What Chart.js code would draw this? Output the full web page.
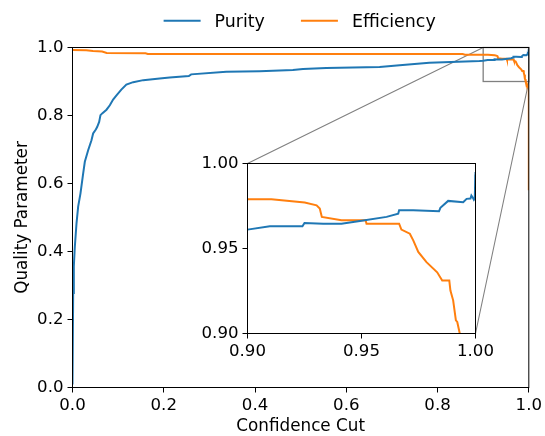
<!DOCTYPE html>
<html><head><meta charset="utf-8">
<script src="https://cdn.jsdelivr.net/npm/chart.js@4"></script>
<style>
html,body{margin:0;padding:0;background:#fff;}
#wrap{position:relative;width:545px;height:436px;overflow:hidden;}
#wrap canvas{position:absolute;left:0;top:0;}
</style></head><body>
<div id="wrap"><canvas id="main" width="545" height="436"></canvas><canvas id="inset" width="545" height="436"></canvas></div>
<script>
// ---- data ----
const seriesNames = ['Purity', 'Efficiency'];
const axisTitles = ['Confidence Cut', 'Quality Parameter'];

const purityCut = [0, 0.0015, 0.0029, 0.0051, 0.0088, 0.0124, 0.0175, 0.0234, 0.027, 0.0343, 0.0416, 0.0452, 0.0511, 0.054, 0.0584, 0.0613, 0.0657, 0.0745, 0.0818, 0.089, 0.0964, 0.107, 0.118, 0.133, 0.155, 0.191, 0.213, 0.255, 0.26, 0.337, 0.41, 0.483, 0.505, 0.556, 0.673, 0.717, 0.782, 0.892,
  0.9, 0.9098, 0.9241, 0.925, 0.9332, 0.9412, 0.9493, 0.961, 0.9661, 0.9665, 0.9727, 0.984, 0.9846, 0.988, 0.9946, 0.9961, 0.9978, 0.9982, 0.9987, 0.9993, 0.9997, 0.9999, 1.0];
const purityValues = [0.009, 0.278, 0.356, 0.414, 0.483, 0.532, 0.571, 0.630, 0.664, 0.698, 0.727, 0.747, 0.759, 0.766, 0.781, 0.801, 0.807, 0.817, 0.830, 0.847, 0.859, 0.876, 0.891, 0.898, 0.904, 0.909, 0.912, 0.916, 0.921, 0.9285, 0.930, 0.9335, 0.937, 0.940, 0.943, 0.948, 0.955, 0.960,
  0.9611, 0.9631, 0.9631, 0.9650, 0.9646, 0.9646, 0.9662, 0.9686, 0.9705, 0.9725, 0.9725, 0.9719, 0.9739, 0.9780, 0.9772, 0.9792, 0.9794, 0.9812, 0.9802, 0.9786, 0.9794, 0.9930, 0.9950];

const efficiencyCut = [0, 0.03, 0.045, 0.065, 0.075, 0.16, 0.165, 0.855, 0.86,
  0.9, 0.9105, 0.9251, 0.9303, 0.9317, 0.9326, 0.9412, 0.9518, 0.9522, 0.9665, 0.9675, 0.9712, 0.9727, 0.9749, 0.9785, 0.9832, 0.9854, 0.9885, 0.9890, 0.9902, 0.9914, 0.9920, 0.9931, 0.9944, 0.998, 1.0, 1.0];
const efficiencyValues = [0.993, 0.992, 0.990, 0.988, 0.984, 0.983, 0.981, 0.981, 0.979,
  0.979, 0.979, 0.977, 0.9754, 0.9735, 0.9686, 0.9666, 0.9666, 0.9646, 0.9646, 0.9611, 0.9587, 0.9548, 0.948, 0.942, 0.936, 0.9312, 0.9312, 0.9253, 0.9195, 0.9077, 0.9068, 0.900, 0.898, 0.884, 0.88, 0.58];

const mainTicks = [0.0, 0.2, 0.4, 0.6, 0.8, 1.0];
const insetTicks = [0.90, 0.95, 1.00];
const insetRange = [0.9, 1.0];

// ---- styling ----
const colors = ['#1f77b4', '#ff7f0e'];
const FONT = "'DejaVu Sans', 'Liberation Sans', sans-serif";
Chart.defaults.font.family = FONT;
Chart.defaults.color = '#000';

function pts(xs, ys) { return xs.map((x, i) => ({x: x, y: ys[i]})); }
function makeDatasets() {
  return [
    {label: seriesNames[0], data: pts(purityCut, purityValues), borderColor: colors[0], backgroundColor: colors[0], borderWidth: 2, pointRadius: 0, tension: 0, fill: false},
    {label: seriesNames[1], data: pts(efficiencyCut, efficiencyValues), borderColor: colors[1], backgroundColor: colors[1], borderWidth: 2, pointRadius: 0, tension: 0, fill: false}
  ];
}
function axis(min, max, ticks, digits, title, titlePad, tickPad) {
  return {
    type: 'linear', min: min, max: max,
    afterBuildTicks: s => { s.ticks = ticks.map(v => ({value: v})); },
    ticks: {callback: v => Number(v).toFixed(digits), padding: tickPad, color: '#000', font: {size: 16.6, family: FONT}, maxRotation: 0, autoSkip: false},
    grid: {display: true, drawOnChartArea: false, drawTicks: true, tickLength: 5, color: '#000', lineWidth: 1},
    border: {display: false},
    title: title ? {display: true, text: title, color: '#000', font: {size: 16.8, family: FONT}, padding: titlePad} : {display: false}
  };
}
const framePlugin = {id: 'frame', afterDraw(chart) {
  const a = chart.chartArea, ctx = chart.ctx;
  ctx.save(); ctx.strokeStyle = '#000'; ctx.lineWidth = 1;
  ctx.strokeRect(a.left, a.top, a.right - a.left, a.bottom - a.top);
  ctx.restore();
}};

function fitArea(chart, pad, target) {
  for (let k = 0; k < 4; k++) {
    const a = chart.chartArea;
    pad.left += target.left - a.left; pad.top += target.top - a.top;
    pad.right += a.right - target.right; pad.bottom += a.bottom - target.bottom;
    chart.update('none');
  }
}

// ---- inset chart (top canvas) ----
const insetPad = {left: 200, top: 150, right: 60, bottom: 90};
const insetChart = new Chart(document.getElementById('inset'), {
  type: 'line',
  data: {datasets: makeDatasets()},
  options: {
    responsive: false, animation: false, events: [],
    layout: {padding: insetPad},
    plugins: {legend: {display: false}, tooltip: {enabled: false}},
    scales: {
      x: axis(insetRange[0], insetRange[1], insetTicks, 2, null, 0, 3),
      y: axis(insetRange[0], insetRange[1], insetTicks, 2, null, 0, 4)
    }
  },
  plugins: [framePlugin]
});
fitArea(insetChart, insetPad, {left: 247.5, top: 163.5, right: 475.5, bottom: 333.5});

// ---- main chart ----
const legendPlugin = {id: 'mplLegend', afterDraw(chart) {
  const ctx = chart.ctx, a = chart.chartArea;
  ctx.save();
  ctx.font = '17.4px ' + FONT;
  const items = chart.data.datasets.map(d => ({label: d.label, color: d.borderColor, w: ctx.measureText(d.label).width}));
  const lineLen = 37, gapText = 14, gapItem = 36;
  const total = items.reduce((s, it) => s + lineLen + gapText + it.w, 0) + gapItem * (items.length - 1);
  let x = (a.left + a.right) / 2 - total / 2 - 1;
  const y = 20.7;
  items.forEach(it => {
    ctx.strokeStyle = it.color; ctx.lineWidth = 2;
    ctx.beginPath(); ctx.moveTo(x, y); ctx.lineTo(x + lineLen, y); ctx.stroke();
    x += lineLen + gapText;
    ctx.fillStyle = '#000'; ctx.textBaseline = 'alphabetic'; ctx.textAlign = 'left';
    ctx.fillText(it.label, x, y + 6.4);
    x += it.w + gapItem;
  });
  ctx.restore();
}};
const zoomPlugin = {id: 'zoomMark', beforeDatasetsDraw(chart) {
  const ctx = chart.ctx, xs = chart.scales.x, ys = chart.scales.y;
  const ia = insetChart.chartArea;
  const x0 = xs.getPixelForValue(insetRange[0]), x1 = xs.getPixelForValue(insetRange[1]);
  const y0 = ys.getPixelForValue(insetRange[0]), y1 = ys.getPixelForValue(insetRange[1]);
  ctx.save();
  ctx.strokeStyle = '#808080'; ctx.lineWidth = 1.3;
  ctx.strokeRect(x0, y1, x1 - x0, y0 - y1);
  ctx.lineWidth = 1.1;
  ctx.beginPath();
  ctx.moveTo(x0, y1); ctx.lineTo(ia.left, ia.top);
  ctx.moveTo(x1, y0); ctx.lineTo(ia.right, ia.bottom);
  ctx.stroke();
  ctx.restore();
}};
const mainPad = {left: 10, top: 40, right: 5, bottom: 5};
const mainChart = new Chart(document.getElementById('main'), {
  type: 'line',
  data: {datasets: makeDatasets()},
  options: {
    responsive: false, animation: false, events: [],
    layout: {padding: mainPad},
    plugins: {legend: {display: false}, tooltip: {enabled: false}},
    scales: {
      x: axis(0, 1, mainTicks, 1, axisTitles[0], {top: -2, bottom: 0}, 3),
      y: axis(0, 1, mainTicks, 1, axisTitles[1], {top: 4, bottom: 0}, 4)
    }
  },
  plugins: [framePlugin, zoomPlugin, legendPlugin]
});
fitArea(mainChart, mainPad, {left: 72.5, top: 47.5, right: 529.5, bottom: 387.5});
</script>
</body></html>
